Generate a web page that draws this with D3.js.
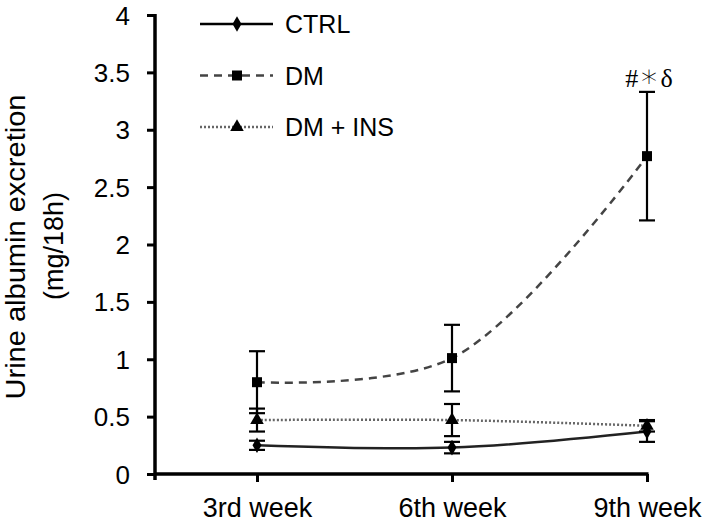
<!DOCTYPE html>
<html>
  <head>
    <meta charset="utf-8">
    <title>Urine albumin excretion</title>
    <script type="text/javascript" src="https://d3js.org/d3.v7.min.js"></script>
    <style>
      html, body { margin: 0; background: #fff; }
      text { font-family: "Liberation Sans", Arial, sans-serif; fill: #000; }
    </style>
  </head>
  <body>
    <script>

    var weeks = ["3rd week", "6th week", "9th week"];
    var groups = ["CTRL", "DM", "DM + INS"];
    var ctrlMean = [0.25, 0.23, 0.37];
    var ctrlErr  = [0.04, 0.05, 0.09];
    var dmMean   = [0.80, 1.01, 2.77];
    var dmErr    = [0.27, 0.29, 0.56];
    var insMean  = [0.47, 0.47, 0.42];
    var insErr   = [0.10, 0.14, 0.05];
    var yTicks   = [0, 0.5, 1, 1.5, 2, 2.5, 3, 3.5, 4];
    var mark9th  = ["#", "\u2217", "\u03B4"];

    var W = 706, H = 532;
    var x0 = 155, x1 = 647, yTop = 15, yBot = 474;

    var svg = d3.select("body").append("svg")
                .attr("width", W).attr("height", H);

    var x = d3.scalePoint().domain(weeks).range([257, x1]);
    var y = d3.scaleLinear().domain([0, 4]).range([yBot, yTop]);

    var series = [
      {name: groups[0], mean: ctrlMean, err: ctrlErr, dash: null,  color: "#222", sym: d3.symbolDiamond, size: 70},
      {name: groups[1], mean: dmMean,   err: dmErr,   dash: "8,6", color: "#444", sym: d3.symbolSquare,  size: 100},
      {name: groups[2], mean: insMean,  err: insErr,  dash: "2,2", color: "#666", sym: d3.symbolTriangle, size: 80}
    ];

    // axes
    var yAxis = d3.axisLeft(y).tickValues(yTicks).tickSize(8).tickPadding(17)
                  .tickFormat(d3.format("~g"));
    var gy = svg.append("g").attr("transform", "translate(" + x0 + ",0)").call(yAxis);
    gy.select(".domain").remove();
    gy.selectAll(".tick line").attr("stroke", "#000").attr("stroke-width", 3);
    gy.selectAll(".tick text").style("font-size", "26px").attr("dy", "0.35em");
    svg.append("line").attr("x1", x0).attr("x2", x0).attr("y1", yTop - 1).attr("y2", yBot + 6)
       .attr("stroke", "#000").attr("stroke-width", 3.5);

    var xAxis = d3.axisBottom(x).tickSize(8).tickPadding(16);
    var gx = svg.append("g").attr("transform", "translate(0," + yBot + ")").call(xAxis);
    gx.select(".domain").remove();
    gx.selectAll(".tick line").attr("stroke", "#000").attr("stroke-width", 3);
    gx.selectAll(".tick text").style("font-size", "27px");
    svg.append("line").attr("x1", x0).attr("x2", x1 + 1.5).attr("y1", yBot).attr("y2", yBot)
       .attr("stroke", "#000").attr("stroke-width", 3.5);

    // y title
    svg.append("text").attr("transform", "translate(25,247) rotate(-90)")
       .attr("text-anchor", "middle").style("font-size", "27px")
       .attr("textLength", 305).attr("lengthAdjust", "spacingAndGlyphs")
       .text("Urine albumin excretion");
    svg.append("text").attr("transform", "translate(63,246) rotate(-90)")
       .attr("text-anchor", "middle").style("font-size", "27px")
       .text("(mg/18h)");

    // lines
    var line = d3.line()
                 .x(function(d, i) { return x(weeks[i]); })
                 .y(function(d) { return y(d); })
                 .curve(d3.curveCatmullRom.alpha(0.5));

    series.forEach(function(s) {
      svg.append("path").datum(s.mean)
         .attr("d", line).attr("fill", "none")
         .attr("stroke", s.color).attr("stroke-width", 2.5)
         .attr("stroke-dasharray", s.dash);
    });

    // error bars + markers
    series.forEach(function(s) {
      var g = svg.append("g");
      s.mean.forEach(function(m, i) {
        var cx = x(weeks[i]);
        var lo = y(m - s.err[i]), hi = y(m + s.err[i]);
        g.append("line").attr("x1", cx).attr("x2", cx).attr("y1", lo).attr("y2", hi)
         .attr("stroke", "#000").attr("stroke-width", 2.2);
        [lo, hi].forEach(function(v) {
          g.append("line").attr("x1", cx - 8).attr("x2", cx + 8).attr("y1", v).attr("y2", v)
           .attr("stroke", "#000").attr("stroke-width", 2.2);
        });
        g.append("path").attr("d", d3.symbol().type(s.sym).size(s.size))
         .attr("transform", "translate(" + cx + "," + y(m) + ")").attr("fill", "#000");
      });
    });

    // significance mark
    var sig = svg.append("text").attr("x", x(weeks[2]) + 2).attr("y", 87).attr("text-anchor", "middle")
       .style("font-family", "'Liberation Serif', 'Times New Roman', serif")
       .style("font-size", "26px");
    sig.append("tspan").text(mark9th[0]);
    sig.append("tspan").style("font-family", "'DejaVu Sans ExtraLight', 'DejaVu Sans', sans-serif")
       .style("font-weight", "200").style("font-size", "32px").attr("dx", 1).text(mark9th[1]);
    sig.append("tspan").attr("dx", 1).text(mark9th[2]);

    // legend
    var leg = svg.append("g");
    series.forEach(function(s, i) {
      var ly = 24 + i * 51.5;
      leg.append("line").attr("x1", 200).attr("x2", 273).attr("y1", ly).attr("y2", ly)
         .attr("stroke", i == 0 ? "#000" : s.color).attr("stroke-width", 2.5)
         .attr("stroke-dasharray", s.dash);
      leg.append("path").attr("d", d3.symbol().type(s.sym).size(s.size))
         .attr("transform", "translate(237," + ly + ")").attr("fill", "#000");
      leg.append("text").attr("x", 285).attr("y", ly + 9).style("font-size", "25px").text(s.name);
    });

    </script>
  </body>
</html>
